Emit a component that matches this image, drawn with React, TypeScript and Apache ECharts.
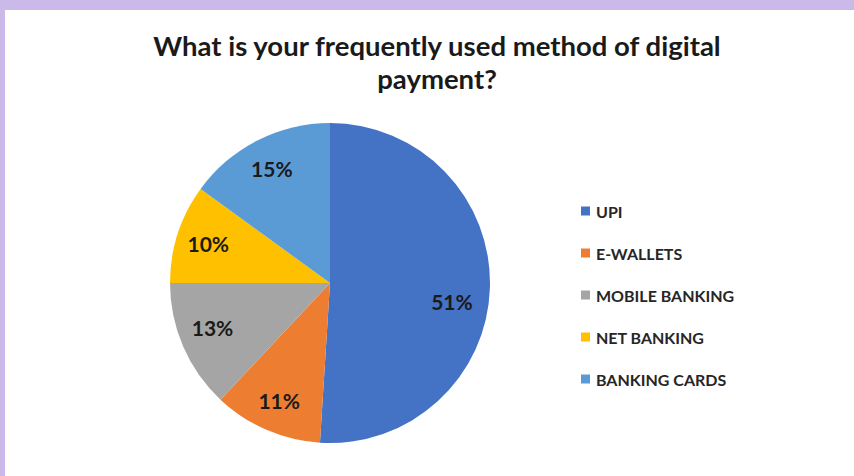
import React, { useEffect, useRef } from "react";
import * as echarts from "echarts";

const categories = ["UPI", "E-WALLETS", "MOBILE BANKING", "NET BANKING", "BANKING CARDS"];
const values = [51, 11, 13, 10, 15];
const colors = ["#4472C4", "#ED7D31", "#A5A5A5", "#FFC000", "#5B9BD5"];
const titleText = "What is your frequently used method of digital\npayment?";

const FONT = "Lato, 'Noto Sans', sans-serif";

export default function App() {
  const ref = useRef<HTMLDivElement>(null);
  useEffect(() => {
    if (!ref.current) return;
    const chart = echarts.init(ref.current, undefined, { renderer: "svg" });
    const data = categories.map((name, i) => ({
      name,
      value: values[i],
      itemStyle: { color: colors[i] },
    }));
    chart.setOption({
      animation: false,
      backgroundColor: "transparent",
      title: {
        text: titleText,
        left: 432,
        textAlign: "center",
        top: 24,
        textStyle: {
          fontFamily: FONT,
          fontSize: 27.5,
          fontWeight: "bold",
          color: "#1a1a1a",
          lineHeight: 33,
        },
      },
      legend: {
        orient: "vertical",
        left: 576,
        top: 198,
        itemWidth: 9,
        itemHeight: 9,
        itemGap: 26,
        icon: "rect",
        data: categories.map((name, i) => ({ name, itemStyle: { color: colors[i] } })),
        textStyle: {
          fontFamily: FONT,
          fontSize: 16,
          lineHeight: 16,
          fontWeight: "bold",
          color: "#262626",
          padding: [0, 0, 0, 1],
        },
      },
      series: [
        {
          type: "pie",
          center: [330, 283],
          radius: 160,
          startAngle: 90,
          clockwise: true,
          label: { show: false },
          labelLine: { show: false },
          silent: true,
          data,
        },
        {
          type: "pie",
          center: [330, 283],
          radius: [90, 160],
          startAngle: 90,
          clockwise: true,
          silent: true,
          itemStyle: { color: "rgba(0,0,0,0)" },
          label: {
            show: true,
            position: "inside",
            formatter: "{c}%",
            fontFamily: FONT,
            fontSize: 21,
            fontWeight: "bold",
            color: "#1a1a1a",
          },
          labelLine: { show: false },
          data: categories.map((name, i) => ({
            name,
            value: values[i],
            label: i === 0 ? { offset: [-6, 14] } : i === 2 ? { offset: [0, -6] } : undefined,
          })),
        },
      ],
    });
    return () => chart.dispose();
  }, []);
  return (
    <div
      style={{
        position: "fixed",
        left: 0,
        top: 0,
        width: 854,
        height: 476,
        background: "#CBB9E9",
      }}
    >
      <div
        style={{
          position: "absolute",
          left: 5,
          top: 10,
          right: 0,
          bottom: 0,
          background: "#ffffff",
        }}
      />
      <div
        ref={ref}
        style={{ position: "absolute", left: 0, top: 0, width: 854, height: 476 }}
      />
    </div>
  );
}
